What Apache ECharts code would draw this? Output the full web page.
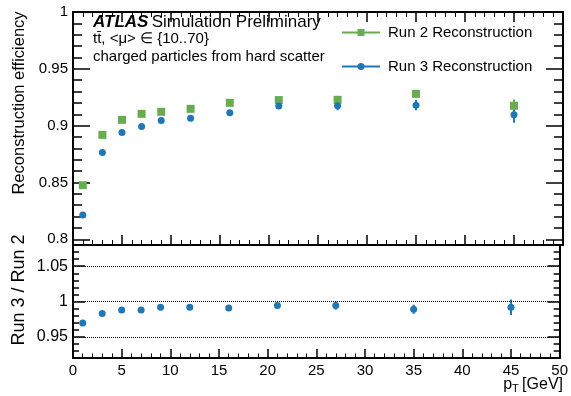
<!DOCTYPE html>
<html>
<head>
<meta charset="utf-8">
<script src="https://cdn.jsdelivr.net/npm/echarts@6/dist/echarts.min.js"></script>
<style>
  html, body { margin: 0; padding: 0; background: #fff; }
  #chart { width: 571px; height: 396px; }
</style>
</head>
<body>
<div id="chart"></div>
<script>
const FONT = "'Liberation Sans', Arial, sans-serif";
const GREEN = '#67ad4f';
const BLUE = '#1f78b4';

// track pT bin centres [GeV]
const ptBins = [1, 3, 5, 7, 9, 12, 16, 21, 27, 35, 45];

// efficiencies and their errors
const effRun2 = [0.8476, 0.8919, 0.9051, 0.9104, 0.9122, 0.9148, 0.9201, 0.9225, 0.9227, 0.928, 0.9175];
const errRun2 = [0.001, 0.001, 0.001, 0.001, 0.001, 0.001, 0.0015, 0.002, 0.0035, 0.0035, 0.0055];
const effRun3 = [0.8214, 0.8764, 0.894, 0.8993, 0.9046, 0.9066, 0.9113, 0.9172, 0.9175, 0.918, 0.9095];
const errRun3 = [0.001, 0.001, 0.001, 0.001, 0.001, 0.001, 0.0015, 0.002, 0.004, 0.0045, 0.007];

// Run 3 / Run 2
const ratio = [0.9695, 0.983, 0.988, 0.988, 0.9917, 0.9917, 0.9907, 0.9944, 0.9944, 0.989, 0.9917];
const ratioErr = [0.001, 0.001, 0.001, 0.001, 0.0015, 0.0015, 0.002, 0.003, 0.006, 0.0065, 0.011];

// tick labels
const effTicks = [0.8, 0.85, 0.9, 0.95, 1];
const ratioTicks = [0.95, 1, 1.05];
const ratioLines = [0.95, 1, 1.05];

// minor ticks every 0.01
function steps(from, to) {
  const out = [];
  for (let i = Math.round(from * 100); i <= Math.round(to * 100); i++) out.push(i / 100);
  return out;
}
const effMinor = steps(0.8, 1);
const ratioMinor = steps(0.92, 1.08);

const pairs = (ys) => ptBins.map((x, i) => [x, ys[i]]);
const bars = (ys, es) => ptBins.map((x, i) => [x, ys[i] - es[i], ys[i] + es[i]]);

const frame = { show: true, lineStyle: { color: '#000', width: 2 } };

function yAx(grid, pos, min, max, ticks, len, labels, line, fontSize) {
  return {
    type: 'value', gridIndex: grid, position: pos, min: min, max: max,
    axisLine: line ? frame : { show: false },
    axisTick: { show: true, inside: true, length: len, customValues: ticks,
      lineStyle: { color: '#000', width: 1.5 } },
    axisLabel: labels ? { show: true, customValues: ticks, margin: 5, color: '#000',
      fontSize: fontSize, fontFamily: FONT, formatter: (v) => String(v) } : { show: false },
    splitLine: { show: false }
  };
}

function xAx(grid, pos, labels, len) {
  return {
    type: 'value', gridIndex: grid, position: pos, min: 0, max: 50, interval: 5,
    axisLine: frame,
    axisTick: { show: true, inside: true, length: len, lineStyle: { color: '#000', width: 1.5 } },
    minorTick: { show: true, splitNumber: 5, length: len / 2, lineStyle: { color: '#000', width: 1 } },
    axisLabel: labels ? { show: true, margin: 5, color: '#000', fontSize: 15, fontFamily: FONT } : { show: false },
    splitLine: { show: false }
  };
}

function errorBars(name, data, color, xi, yi) {
  return {
    name: name, type: 'custom', xAxisIndex: xi, yAxisIndex: yi, data: data,
    encode: { x: 0, y: [1, 2] }, silent: true, z: 2,
    renderItem: (params, api) => {
      const p1 = api.coord([api.value(0), api.value(1)]);
      const p2 = api.coord([api.value(0), api.value(2)]);
      return { type: 'line', shape: { x1: p1[0], y1: p1[1], x2: p2[0], y2: p2[1] },
        style: { stroke: color, lineWidth: 2 } };
    }
  };
}

const chart = echarts.init(document.getElementById('chart'));
chart.setOption({
  animation: false,
  backgroundColor: '#fff',
  textStyle: { fontFamily: FONT },
  grid: [
    { left: 73, top: 12, width: 490, height: 233 },
    { left: 73, top: 245, width: 490, height: 113 }
  ],
  xAxis: [
    xAx(0, 'bottom', false, 10),
    xAx(0, 'top', false, 10),
    xAx(1, 'bottom', true, 9)
  ],
  yAxis: [
    yAx(0, 'left', 0.795, 1, effTicks, 17, true, true, 15),
    yAx(0, 'left', 0.795, 1, effMinor, 9, false, false),
    yAx(0, 'right', 0.795, 1, effTicks, 17, false, true),
    yAx(0, 'right', 0.795, 1, effMinor, 9, false, false),
    yAx(1, 'left', 0.92, 1.08, ratioTicks, 12, true, true, 16),
    yAx(1, 'left', 0.92, 1.08, ratioMinor, 6, false, false),
    yAx(1, 'right', 0.92, 1.08, ratioTicks, 12, false, true),
    yAx(1, 'right', 0.92, 1.08, ratioMinor, 6, false, false)
  ],
  legend: {
    orient: 'vertical', left: 342, top: 25, padding: 0, itemWidth: 38, itemHeight: 8, itemGap: 19,
    textStyle: { fontSize: 15, color: '#000', fontFamily: FONT, padding: [0, 0, 0, 3] },
    data: [
      { name: 'Run 2 Reconstruction', icon: 'path://M0,3H38V5H0Z M15.5,0.5H22.5V7.5H15.5Z' },
      { name: 'Run 3 Reconstruction', icon: 'path://M0,3H38V5H0Z M19,0.5A3.5,3.5 0 1,1 19,7.5A3.5,3.5 0 1,1 19,0.5Z' }
    ]
  },
  series: [
    errorBars('run2err', bars(effRun2, errRun2), GREEN, 0, 0),
    errorBars('run3err', bars(effRun3, errRun3), BLUE, 0, 0),
    errorBars('ratioerr', bars(ratio, ratioErr), BLUE, 2, 4),
    {
      name: 'Run 2 Reconstruction', type: 'scatter', xAxisIndex: 0, yAxisIndex: 0,
      data: pairs(effRun2), symbol: 'rect', symbolSize: 8, itemStyle: { color: GREEN, opacity: 1 }, z: 3
    },
    {
      name: 'Run 3 Reconstruction', type: 'scatter', xAxisIndex: 0, yAxisIndex: 0,
      data: pairs(effRun3), symbol: 'circle', symbolSize: 7, itemStyle: { color: BLUE, opacity: 1 }, z: 3
    },
    {
      name: 'ratio', type: 'scatter', xAxisIndex: 2, yAxisIndex: 4,
      data: pairs(ratio), symbol: 'circle', symbolSize: 7, itemStyle: { color: BLUE, opacity: 1 }, z: 3,
      markLine: {
        silent: true, symbol: 'none', label: { show: false },
        lineStyle: { color: '#000', type: 'dotted', width: 1 },
        data: ratioLines.map((v) => ({ yAxis: v }))
      }
    }
  ],
  graphic: [
    {
      type: 'text', x: 93, y: 22,
      style: {
        text: '{a|ATLAS} {n|Simulation Preliminary}', verticalAlign: 'middle',
        rich: {
          a: { fontSize: 17, fontWeight: 'bold', fontStyle: 'italic', fontFamily: FONT, fill: '#000' },
          n: { fontSize: 17, fontFamily: FONT, fill: '#000' }
        }
      }
    },
    { type: 'text', x: 93, y: 39,
      style: { text: 't\u0074\u0304, <\u03bc> \u2208 {10..70}', fontSize: 15, fontFamily: FONT, fill: '#000', verticalAlign: 'middle' } },
    { type: 'text', x: 93, y: 57,
      style: { text: 'charged particles from hard scatter', fontSize: 15, fontFamily: FONT, fill: '#000', verticalAlign: 'middle' } },
    { type: 'text', x: 19, y: 103, rotation: Math.PI / 2,
      style: { text: 'Reconstruction efficiency', fontSize: 16.5, fontFamily: FONT, fill: '#000', align: 'center', verticalAlign: 'middle' } },
    { type: 'text', x: 19, y: 290, rotation: Math.PI / 2,
      style: { text: 'Run 3 / Run 2', fontSize: 18, fontFamily: FONT, fill: '#000', align: 'center', verticalAlign: 'middle' } },
    {
      type: 'text', x: 563, y: 385,
      style: {
        text: '{p|p}{s|T} {p|[GeV]}', align: 'right', verticalAlign: 'middle',
        rich: {
          p: { fontSize: 16, fontFamily: FONT, fill: '#000' },
          s: { fontSize: 11, fontFamily: FONT, fill: '#000', padding: [8, 0, 0, 0] }
        }
      }
    }
  ]
});
</script>
</body>
</html>
